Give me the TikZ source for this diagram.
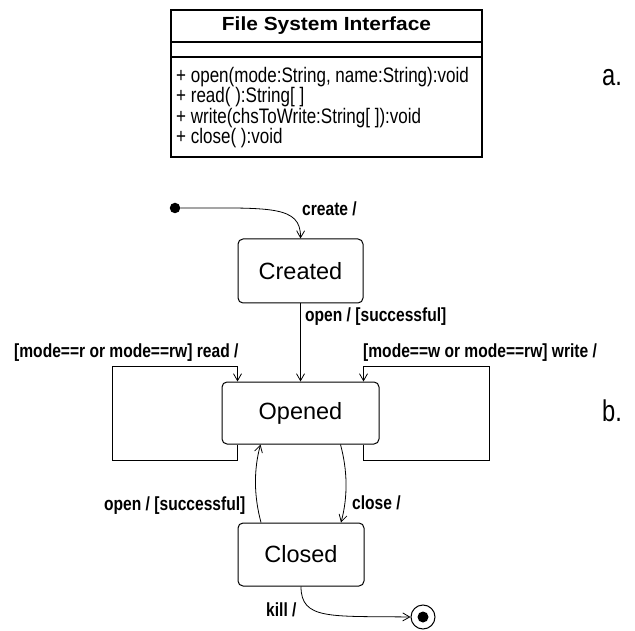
\documentclass[tikz,border=0pt]{standalone}
\usepackage{fontspec}
\setmainfont{Liberation Sans}
\newfontfamily\lblfont{Liberation Sans}[FakeStretch=0.82]
\newfontfamily\opsfont{Liberation Sans}[FakeStretch=0.81]
\newfontfamily\titlefont{Liberation Sans}[FakeStretch=1.1]
\newfontfamily\markfont{Liberation Sans}[FakeStretch=0.79]
\usetikzlibrary{arrows.meta}
\begin{document}
\begin{tikzpicture}[x=1pt,y=-1pt,
  arr/.style={-{Straight Barb[length=7pt,width=8pt]}, line width=0.8pt},
  statebox/.style={draw, rounded corners=5pt, line width=1pt, inner sep=0pt,
    font=\fontsize{23.5}{26}\selectfont},
  lbl/.style={anchor=west, inner sep=0pt, text height=13pt, text depth=4pt,
    font=\lblfont\bfseries\fontsize{19}{21}\selectfont},
  opstext/.style={anchor=west, inner sep=0pt,
    font=\opsfont\fontsize{21}{22}\selectfont},
  partmark/.style={inner sep=0pt, font=\markfont\fontsize{30}{32}\selectfont},
  clsbox/.style={draw, line width=1.1pt, inner sep=0pt}]
\useasboundingbox (0,0) rectangle (635,631);

% class box
\node (title) [clsbox, minimum width=311pt, minimum height=32pt,
  font=\titlefont\bfseries\fontsize{19}{21}\selectfont] at (326.5,26) {File System Interface};
\node (attrs) [clsbox, minimum width=311pt, minimum height=15pt] at (326.5,49.5) {};
\node (ops) [clsbox, minimum width=311pt, minimum height=100pt] at (326.5,107) {};
\node (op1) [opstext] at (176,77) {+ open(mode:String, name:String):void};
\node (op2) [opstext] at (176,97.5) {+ read( ):String[ ]};
\node (op3) [opstext] at (176,118) {+ write(chsToWrite:String[ ]):void};
\node (op4) [opstext] at (176,138.5) {+ close( ):void};

\node (ma) [partmark] at (612,78) {a.};
\node (mb) [partmark] at (612,411) {b.};

% states
\node (init) [circle, fill, minimum size=10.5pt, inner sep=0pt] at (175,208) {};
\node (created) [statebox, minimum width=125pt, minimum height=64pt] at (300.5,271) {Created};
\node (opened) [statebox, minimum width=157pt, minimum height=62pt] at (300.5,413) {Opened};
\node (closed) [statebox, minimum width=126pt, minimum height=63pt] at (301,554.5) {Closed};
\node (final) [circle, draw, line width=1pt, minimum size=24pt, inner sep=0pt] at (423,617) {};
\fill (final.center) circle (5.5pt);

% transitions
\draw[arr] (init.east) .. controls (270,208) and (301,205) .. (created.north);
\node (lcreate) [lbl] at (302,211) {create /};

\draw[arr] (created.south) -- (opened.north);
\node (lopen1) [lbl] at (305,317) {open / [successful]};

\draw[arr] ([xshift=16pt]opened.south west) -- ++(0,16) -| (112,366) -| ([xshift=16pt]opened.north west);
\node (lread) [lbl] at (14,353) {[mode==r or mode==rw] read /};

\draw[arr] ([xshift=-16pt]opened.south east) -- ++(0,16) -| (489,366) -| ([xshift=-16pt]opened.north east);
\node (lwrite) [lbl] at (363,353) {[mode==w or mode==rw] write /};

\draw[arr] ([xshift=-40pt]closed.north) .. controls +(-7,-26) and +(-7,26) .. ([xshift=-40pt]opened.south);
\node (lopen2) [lbl] at (104,506) {open / [successful]};

\draw[arr] ([xshift=40pt]opened.south) .. controls +(7,26) and +(7,-26) .. ([xshift=40pt]closed.north);
\node (lclose) [lbl] at (352,505) {close /};

\draw[arr] (closed.south) .. controls (301,620) and (330,616) .. (final.west);
\node (lkill) [lbl] at (266,612) {kill /};
\end{tikzpicture}
\end{document}
